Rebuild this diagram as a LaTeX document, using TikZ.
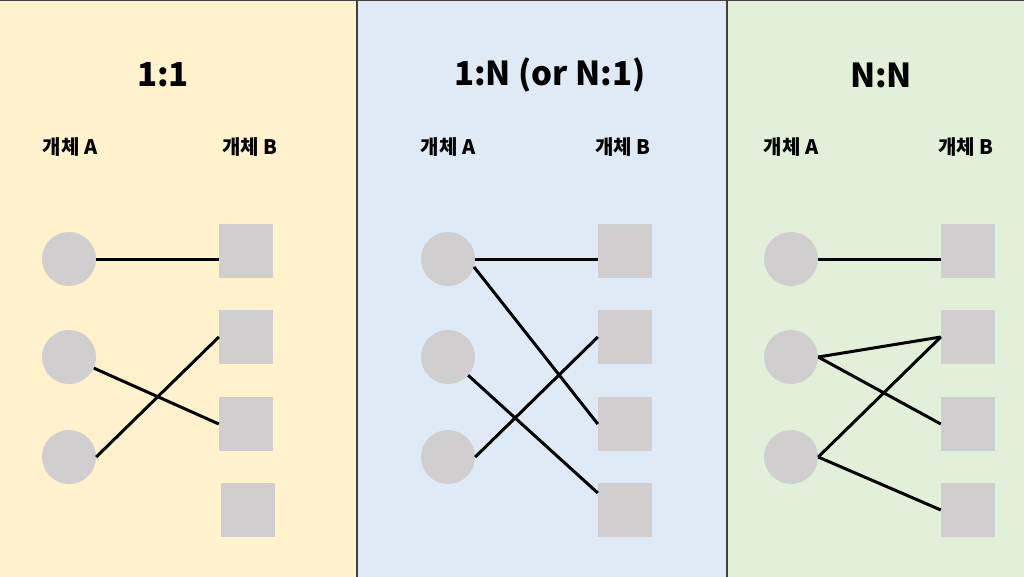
\documentclass[tikz,border=0pt]{standalone}
\usepackage{fontspec}
\setmainfont{Noto Sans CJK KR}
\usepackage{tikz}
\usetikzlibrary{arrows.meta}
\tikzset{>=Stealth}
\definecolor{paneYellow}{HTML}{FFF2CC}
\definecolor{paneBlue}{HTML}{DEEBF7}
\definecolor{paneGreen}{HTML}{E2F0D9}
\definecolor{entGray}{HTML}{D0CECE}
\definecolor{paneLine}{HTML}{404040}
\tikzset{
    pane/.style={draw=paneLine,line width=1.2pt},
    entA/.style={circle,fill=entGray,minimum size=54pt,inner sep=0pt},
    entB/.style={rectangle,fill=entGray,minimum size=54pt,inner sep=0pt},
    title/.style={font=\fontsize{33}{40}\selectfont\bfseries},
    label/.style={font=\fontsize{20}{24}\selectfont\bfseries},
    link/.style={draw=black,line width=3pt}
}

\begin{document}
\begin{tikzpicture}[x=1pt,y=-1pt]
    \useasboundingbox (0,0) rectangle (1024,576);
    \fill[paneYellow] (-2,-2) rectangle (357,578);
    \fill[paneGreen] (727,-2) rectangle (1026,578);
    \draw[pane] (-2,0) -- (1026,0);
    \draw[pane,fill=paneBlue] (357,0) rectangle (727,578);

    % 1:1
    \node[title] at (163,75) (t1) {1:1};
    \node[label] at (70,147) (la1) {개체 A};
    \node[label] at (250,147) (lb1) {개체 B};
    \node[entA] at (69,259) (p1a1) {};
    \node[entA] at (69,357) (p1a2) {};
    \node[entA] at (69,457) (p1a3) {};
    \node[entB] at (246,251) (p1b1) {};
    \node[entB] at (246,337) (p1b2) {};
    \node[entB] at (246,424) (p1b3) {};
    \node[entB] at (248,510) (p1b4) {};
    \path[link]
    (p1a1) edge (p1a1 -| p1b1.west)
    (p1a2) edge (p1b3.west)
    (p1a3.east) edge (p1b2.west)
    ;

    % 1:N
    \node[title] at (550,75) (t2) {1:N (or N:1)};
    \node[label] at (448,147) (la2) {개체 A};
    \node[label] at (623,147) (lb2) {개체 B};
    \node[entA] at (448,259) (p2a1) {};
    \node[entA] at (448,357) (p2a2) {};
    \node[entA] at (448,457) (p2a3) {};
    \node[entB] at (625,251) (p2b1) {};
    \node[entB] at (625,337) (p2b2) {};
    \node[entB] at (625,424) (p2b3) {};
    \node[entB] at (625,510) (p2b4) {};
    \path[link]
    (p2a1) edge (p2a1 -| p2b1.west)
    (p2a1.-17) edge (p2b3.west)
    (p2a2) edge ([yshift=17pt]p2b4.west)
    (p2a3.east) edge (p2b2.west)
    ;

    % N:N
    \node[title] at (881,75) (t3) {N:N};
    \node[label] at (791,147) (la3) {개체 A};
    \node[label] at (966,147) (lb3) {개체 B};
    \node[entA] at (791,259) (p3a1) {};
    \node[entA] at (791,357) (p3a2) {};
    \node[entA] at (791,457) (p3a3) {};
    \node[entB] at (968,251) (p3b1) {};
    \node[entB] at (968,337) (p3b2) {};
    \node[entB] at (968,424) (p3b3) {};
    \node[entB] at (968,510) (p3b4) {};
    \path[link]
    (p3a1) edge (p3a1 -| p3b1.west)
    (p3a2.east) edge (p3b2.west)
    (p3a2.east) edge (p3b3.west)
    (p3a3.east) edge (p3b2.west)
    (p3a3.east) edge (p3b4.west)
    ;
\end{tikzpicture}
\end{document}
